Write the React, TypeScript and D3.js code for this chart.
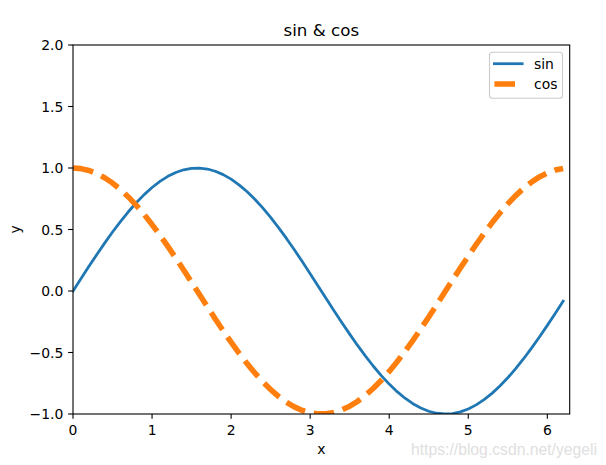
import React from "react";
import * as d3 from "d3";

const xValues = [
  0, 0.1, 0.2, 0.3, 0.4, 0.5, 0.6, 0.7, 0.8, 0.9, 1.0, 1.1, 1.2, 1.3, 1.4, 1.5, 1.6, 1.7, 1.8, 1.9,
  2.0, 2.1, 2.2, 2.3, 2.4, 2.5, 2.6, 2.7, 2.8, 2.9, 3.0, 3.1, 3.2, 3.3, 3.4, 3.5, 3.6, 3.7, 3.8, 3.9,
  4.0, 4.1, 4.2, 4.3, 4.4, 4.5, 4.6, 4.7, 4.8, 4.9, 5.0, 5.1, 5.2, 5.3, 5.4, 5.5, 5.6, 5.7, 5.8, 5.9,
  6.0, 6.1, 6.2,
];

const sinValues = [
  0, 0.0998, 0.1987, 0.2955, 0.3894, 0.4794, 0.5646, 0.6442, 0.7174, 0.7833, 0.8415, 0.8912, 0.932,
  0.9636, 0.9854, 0.9975, 0.9996, 0.9917, 0.9738, 0.9463, 0.9093, 0.8632, 0.8085, 0.7457, 0.6755,
  0.5985, 0.5155, 0.4274, 0.335, 0.2392, 0.1411, 0.0416, -0.0584, -0.1577, -0.2555, -0.3508, -0.4425,
  -0.5298, -0.6119, -0.6878, -0.7568, -0.8183, -0.8716, -0.9162, -0.9516, -0.9775, -0.9937, -0.9999,
  -0.9962, -0.9825, -0.9589, -0.9258, -0.8835, -0.8323, -0.7728, -0.7055, -0.6313, -0.5507, -0.4646,
  -0.3739, -0.2794, -0.1822, -0.0831,
];

const cosValues = [
  1, 0.995, 0.9801, 0.9553, 0.9211, 0.8776, 0.8253, 0.7648, 0.6967, 0.6216, 0.5403, 0.4536, 0.3624,
  0.2675, 0.17, 0.0707, -0.0292, -0.1288, -0.2272, -0.3233, -0.4161, -0.5048, -0.5885, -0.6663,
  -0.7374, -0.8011, -0.8569, -0.9041, -0.9422, -0.971, -0.99, -0.9991, -0.9983, -0.9875, -0.9668,
  -0.9365, -0.8968, -0.8481, -0.791, -0.7259, -0.6536, -0.5748, -0.4903, -0.4008, -0.3073, -0.2108,
  -0.1122, -0.0124, 0.0875, 0.1865, 0.2837, 0.378, 0.4685, 0.5544, 0.6347, 0.7087, 0.7756, 0.8347,
  0.8855, 0.9275, 0.9602, 0.9833, 0.9965,
];

const xTicks = [0, 1, 2, 3, 4, 5, 6];
const yTicks = [-1.0, -0.5, 0.0, 0.5, 1.0, 1.5, 2.0];
const seriesNames = ["sin", "cos"];
const titleText = "sin & cos";
const xLabel = "x";
const yLabel = "y";
const watermark = "https://blog.csdn.net/yegeli";

const W = 606;
const H = 465;
const left = 73;
const right = 569.7;
const top = 45;
const bottom = 414;
const FONT = "'DejaVu Sans', sans-serif";
const FS = 13.9;

export default function App() {
  const x = d3.scaleLinear().domain([0, 6.2832]).range([left, right]);
  const y = d3.scaleLinear().domain([-1, 2]).range([bottom, top]);

  const sinData = xValues.map((v, i) => [v, sinValues[i]] as [number, number]);
  const cosData = xValues.map((v, i) => [v, cosValues[i]] as [number, number]);
  const line = d3
    .line<[number, number]>()
    .x((d) => x(d[0]))
    .y((d) => y(d[1]));

  const fmtY = (v: number) => {
    const s = Math.abs(v).toFixed(1);
    return v < 0 ? "\u2212" + s : s;
  };

  const tickLen = 4.86;
  const cx = (left + right) / 2;
  const cy = (top + bottom) / 2;

  const legL = 489.5;
  const legT = 52.3;
  const legW = 73;
  const legH = 46;

  return (
    <svg
      width={W}
      height={H}
      style={{ position: "absolute", left: 0, top: 0, background: "#fff" }}
      fontFamily={FONT}
    >
      <rect x={0} y={0} width={W} height={H} fill="#fff" />
      <defs>
        <clipPath id="plotclip">
          <rect x={left} y={top} width={right - left} height={bottom - top} />
        </clipPath>
      </defs>

      <g clipPath="url(#plotclip)">
        <path
          d={line(sinData) || ""}
          fill="none"
          stroke="#1f77b4"
          strokeWidth={2.78}
          strokeLinejoin="round"
          strokeLinecap="square"
        />
        <path
          d={line(cosData) || ""}
          fill="none"
          stroke="#ff7f0e"
          strokeWidth={5.56}
          strokeDasharray="20.6 8.9"
          strokeLinejoin="round"
          strokeLinecap="butt"
        />
      </g>

      {/* spines */}
      <rect
        x={left}
        y={top}
        width={right - left}
        height={bottom - top}
        fill="none"
        stroke="#000"
        strokeWidth={1.1}
      />

      {/* x ticks */}
      {xTicks.map((t) => (
        <g key={"xt" + t}>
          <line x1={x(t)} x2={x(t)} y1={bottom} y2={bottom + tickLen} stroke="#000" strokeWidth={1.1} />
          <text x={x(t)} y={435} textAnchor="middle" fontSize={FS} fill="#000">
            {String(t)}
          </text>
        </g>
      ))}

      {/* y ticks */}
      {yTicks.map((t) => (
        <g key={"yt" + t}>
          <line x1={left - tickLen} x2={left} y1={y(t)} y2={y(t)} stroke="#000" strokeWidth={1.1} />
          <text x={left - 2 * tickLen} y={y(t) + 5} textAnchor="end" fontSize={FS} fill="#000">
            {fmtY(t)}
          </text>
        </g>
      ))}

      {/* labels */}
      <text x={cx} y={454} textAnchor="middle" fontSize={FS} fill="#000">
        {xLabel}
      </text>
      <text
        transform={`translate(20,${cy}) rotate(-90)`}
        textAnchor="middle"
        fontSize={FS}
        fill="#000"
      >
        {yLabel}
      </text>
      <text x={cx} y={36} textAnchor="middle" fontSize={16.7} fill="#000">
        {titleText}
      </text>

      {/* legend */}
      <rect
        x={legL}
        y={legT}
        width={legW}
        height={legH}
        rx={3}
        ry={3}
        fill="#fff"
        fillOpacity={0.8}
        stroke="#cccccc"
        strokeWidth={1.1}
      />
      <line
        x1={legL + 4.9}
        x2={legL + 4.9 + 27.8}
        y1={63.7}
        y2={63.7}
        stroke="#1f77b4"
        strokeWidth={2.78}
        strokeLinecap="square"
      />
      <text x={legL + 44.5} y={68.6} fontSize={FS} fill="#000">
        {seriesNames[0]}
      </text>
      <line
        x1={legL + 4.9}
        x2={legL + 4.9 + 27.8}
        y1={84}
        y2={84}
        stroke="#ff7f0e"
        strokeWidth={5.56}
        strokeDasharray="20.6 8.9"
        strokeLinecap="butt"
      />
      <text x={legL + 44.5} y={89} fontSize={FS} fill="#000">
        {seriesNames[1]}
      </text>

      {/* watermark */}
      <text
        x={411}
        y={455}
        fontSize={17}
        textLength={186}
        lengthAdjust="spacingAndGlyphs"
        fontFamily="'Liberation Sans', Arial, sans-serif"
        fill="#e0e0e0"
      >
        {watermark}
      </text>
    </svg>
  );
}
